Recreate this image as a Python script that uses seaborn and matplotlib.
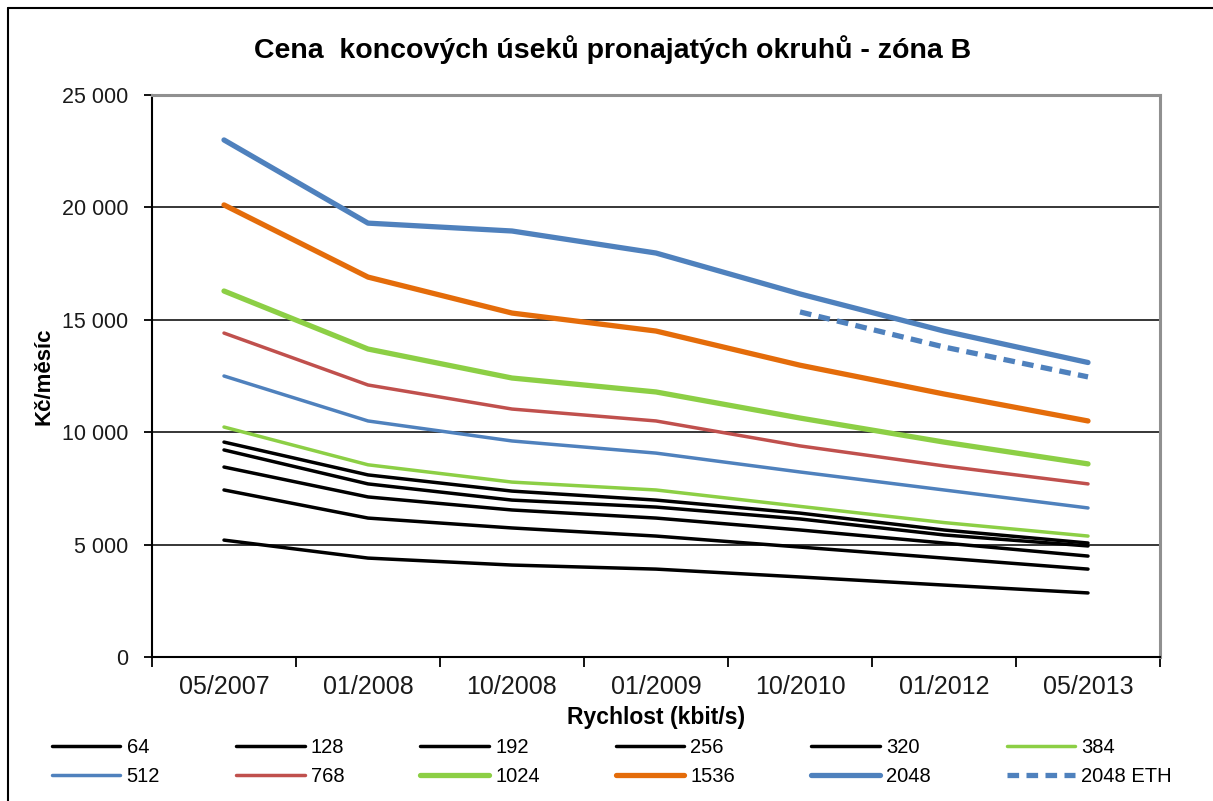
import matplotlib
matplotlib.use("Agg")
import matplotlib.pyplot as plt
import seaborn as sns
import pandas as pd
from matplotlib.ticker import FuncFormatter, FixedLocator

sns.set_theme(style="white")
plt.rcParams['font.family'] = ['Liberation Sans', 'DejaVu Sans']
plt.rcParams['text.color'] = 'black'
plt.rcParams['axes.labelcolor'] = 'black'

dates = ['05/2007', '01/2008', '10/2008', '01/2009', '10/2010', '01/2012', '05/2013']

v64 = [5200, 4400, 4090, 3910, 3560, 3200, 2850]
v128 = [7430, 6180, 5740, 5380, 4890, 4400, 3910]
v192 = [8450, 7120, 6540, 6180, 5650, 5070, 4490]
v256 = [9210, 7700, 6980, 6670, 6140, 5430, 4940]
v320 = [9560, 8100, 7380, 6980, 6400, 5650, 5070]
v384 = [10230, 8550, 7780, 7430, 6700, 5980, 5380]
v512 = [12500, 10500, 9610, 9070, 8230, 7430, 6630]
v768 = [14410, 12100, 11030, 10500, 9390, 8500, 7700]
v1024 = [16280, 13700, 12410, 11790, 10630, 9560, 8590]
v1536 = [20110, 16900, 15300, 14500, 12980, 11700, 10500]
v2048 = [23000, 19300, 18950, 17970, 16150, 14500, 13100]
v2048eth = [None, None, None, None, 15350, 13790, 12460]

names = ['64', '128', '192', '256', '320', '384', '512', '768', '1024', '1536', '2048', '2048 ETH']
series = [v64, v128, v192, v256, v320, v384, v512, v768, v1024, v1536, v2048, v2048eth]

# style per series (colour, width)
black = '#000000'
green = '#8ccf45'
blue = '#4f81bd'
red = '#c0504d'
orange = '#e46c0a'
colors = [black, black, black, black, black, green, blue, red, green, orange, blue, blue]
widths = [2.5, 2.5, 2.5, 2.5, 2.5, 2.5, 2.5, 2.5, 3.8, 3.8, 3.8, 3.8]

rows = []
for n, s in zip(names, series):
    for i, v in enumerate(s):
        if v is not None:
            rows.append({'Rychlost': n, 'i': i, 'cena': v})
df = pd.DataFrame(rows)

fig = plt.figure(figsize=(12.13, 8.01), dpi=100)
ax = fig.add_axes([152/1213, 1-657/801, (1160-152)/1213, (657-95)/801])

for n, c, w in zip(names, colors, widths):
    d = df[df['Rychlost'] == n]
    if n == '2048 ETH':
        sns.lineplot(data=d, x='i', y='cena', ax=ax, color=c, linewidth=w,
                     label=n, linestyle=(0, (2.2, 1.4)))
    else:
        sns.lineplot(data=d, x='i', y='cena', ax=ax, color=c, linewidth=w, label=n)

ax.set_xlim(-0.5, len(dates)-0.5)
ax.set_ylim(0, 25000)
ax.xaxis.set_major_locator(FixedLocator(range(len(dates))))
ax.set_xticklabels(dates)
ax.xaxis.set_minor_locator(FixedLocator([i-0.5 for i in range(len(dates)+1)]))
ax.tick_params(axis='x', which='major', length=0, labelsize=18, pad=13, colors='#1a1a1a')
ax.tick_params(axis='x', which='minor', length=7, width=1.3, color='black', direction='out', bottom=True)
ax.set_yticks([0, 5000, 10000, 15000, 20000, 25000])
ax.yaxis.set_major_formatter(FuncFormatter(lambda v, p: f"{int(v):,}".replace(',', ' ')))
ax.tick_params(axis='y', length=6, width=1.3, color='black', direction='out', left=True,
               labelsize=15.5, pad=11, labelcolor='#1a1a1a')

for yv in [5000, 10000, 15000, 20000]:
    ax.axhline(yv, color='black', linewidth=1.1, zorder=0)

ax.spines['left'].set_color('black')
ax.spines['left'].set_linewidth(1.5)
ax.spines['bottom'].set_color('black')
ax.spines['bottom'].set_linewidth(1.5)
ax.spines['top'].set_color('#909090')
ax.spines['top'].set_linewidth(2.2)
ax.spines['right'].set_color('#909090')
ax.spines['right'].set_linewidth(2.2)

ax.set_xlabel('Rychlost (kbit/s)', fontsize=16.5, fontweight='bold', labelpad=5)
ax.set_ylabel('Kč/měsíc', fontsize=16, fontweight='bold', labelpad=5)
fig.text(0.505, 1-50/801, 'Cena  koncových úseků pronajatých okruhů - zóna B',
         ha='center', va='center', fontsize=20.5, fontweight='bold', color='black')

handles, labels = ax.get_legend_handles_labels()
ax.get_legend().remove()
# legend fills by columns, reorder so it reads row by row
order = [k for c in range(6) for k in (c, c+6)]
fig.legend([handles[k] for k in order], [labels[k] for k in order], ncol=6,
           loc='center left', mode='expand',
           bbox_to_anchor=(52/1213, 1-762/801, 1120/1213, 0.0),
           frameon=False, fontsize=14.5, handlelength=3.4, handletextpad=0.3,
           labelspacing=0.5, borderaxespad=0, borderpad=0)

# chart border
fig.add_artist(plt.Line2D([8/1213, 8/1213], [0, 1-8/801], color='black', linewidth=1.5))
fig.add_artist(plt.Line2D([8/1213, 1], [1-8/801, 1-8/801], color='black', linewidth=1.5))

fig.savefig('out.png', dpi=100)
